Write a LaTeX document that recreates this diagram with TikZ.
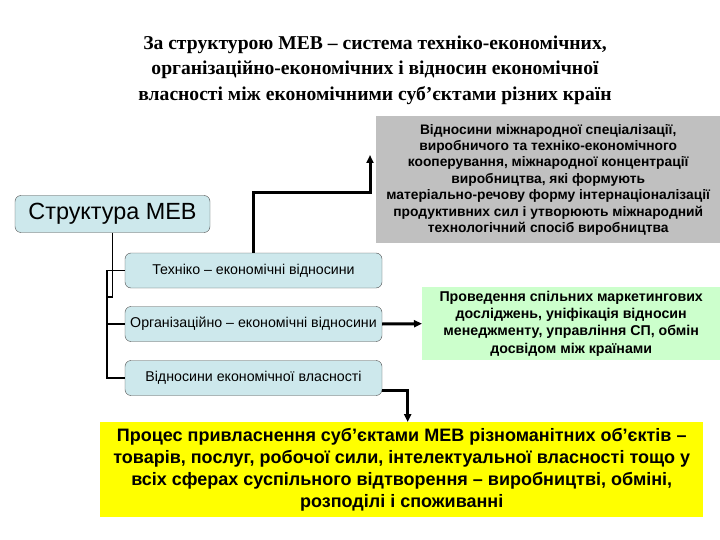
\documentclass[tikz,border=0pt]{standalone}
\usepackage{fontspec}
\setmainfont{Liberation Sans}
\newfontfamily\titlefont{Liberation Serif}
\usepackage{tikz}
\usetikzlibrary{arrows.meta,positioning,calc}
\definecolor{relblue}{RGB}{205,232,236}
\definecolor{grayfill}{RGB}{192,192,192}
\definecolor{softgreen}{RGB}{204,255,204}
\definecolor{brightyel}{RGB}{255,255,0}
\tikzset{
  rel/.style={draw=black!70,fill=relblue,rounded corners=6pt,align=center,minimum width=257pt,minimum height=35pt,inner sep=2pt,font=\fontsize{14.2}{16}\selectfont},
  note/.style={align=center,inner sep=2pt,font=\bfseries\fontsize{13.8}{16.4}\selectfont,anchor=north west},
  link/.style={line width=1.5pt},
  fat/.style={line width=3pt,-{Triangle[length=8pt,width=7pt]}}
}
\begin{document}
\begin{tikzpicture}[x=1pt,y=-1pt]
\useasboundingbox (0,0) rectangle (720,540);
\node[align=center,font=\titlefont\bfseries\fontsize{19.6}{25.5}\selectfont] (title) at (375,70)
  {За структурою МЕВ – система техніко-економічних,\\
   організаційно-економічних і відносин економічної\\
   власності між економічними суб’єктами різних країн};
\node[note,fill=grayfill,minimum width=344pt,minimum height=127pt] (spec) at (376,116)
  {Відносини міжнародної спеціалізації,\\
   виробничого та техніко-економічного\\
   кооперування, міжнародної концентрації\\
   виробництва, які формують\\
   матеріально-речову форму інтернаціоналізації\\
   продуктивних сил і утворюють міжнародний\\
   технологічний спосіб виробництва};
\node[rel,minimum width=195pt,minimum height=37pt,font=\fontsize{23.4}{26}\selectfont] (mev) at (112.5,214) {Структура МЕВ};
\node[rel] (tech) at (253.5,270.5) {Техніко – економічні відносини};
\node[rel] (org) at (253.5,324) {Організаційно – економічні відносини};
\node[rel] (prop) at (253.5,378) {Відносини економічної власності};
\node[note,fill=softgreen,minimum width=298pt,minimum height=73pt,font=\bfseries\fontsize{14.2}{17.2}\selectfont] (mgmt) at (422,287)
  {Проведення спільних маркетингових\\
   досліджень, уніфікація відносин\\
   менеджменту, управління СП, обмін\\
   досвідом між країнами};
\node[note,fill=brightyel,minimum width=603pt,minimum height=95pt,font=\bfseries\fontsize{18}{22}\selectfont] (proc) at (100,422)
  {Процес привласнення суб’єктами МЕВ різноманітних об’єктів –\\
   товарів, послуг, робочої сили, інтелектуальної власності тощо у\\
   всіх сферах суспільного відтворення – виробництві, обміні,\\
   розподілі і споживанні};
\coordinate (up) at (370,155);
% tree
\draw[link] (mev.south) |- (107,297);
\draw[link] (tech.west) -- ++(-18,0) |- (prop.west);
\draw[link] (org.west) -- ++(-18,0);
% arrows
\draw[fat] (tech.north) |- (370,193) -- (up);
\draw[fat] (org.east) -- (mgmt.west);
\draw[fat] ([yshift=-12pt]prop.east) -| ([xshift=6pt]proc.north);
\end{tikzpicture}
\end{document}
